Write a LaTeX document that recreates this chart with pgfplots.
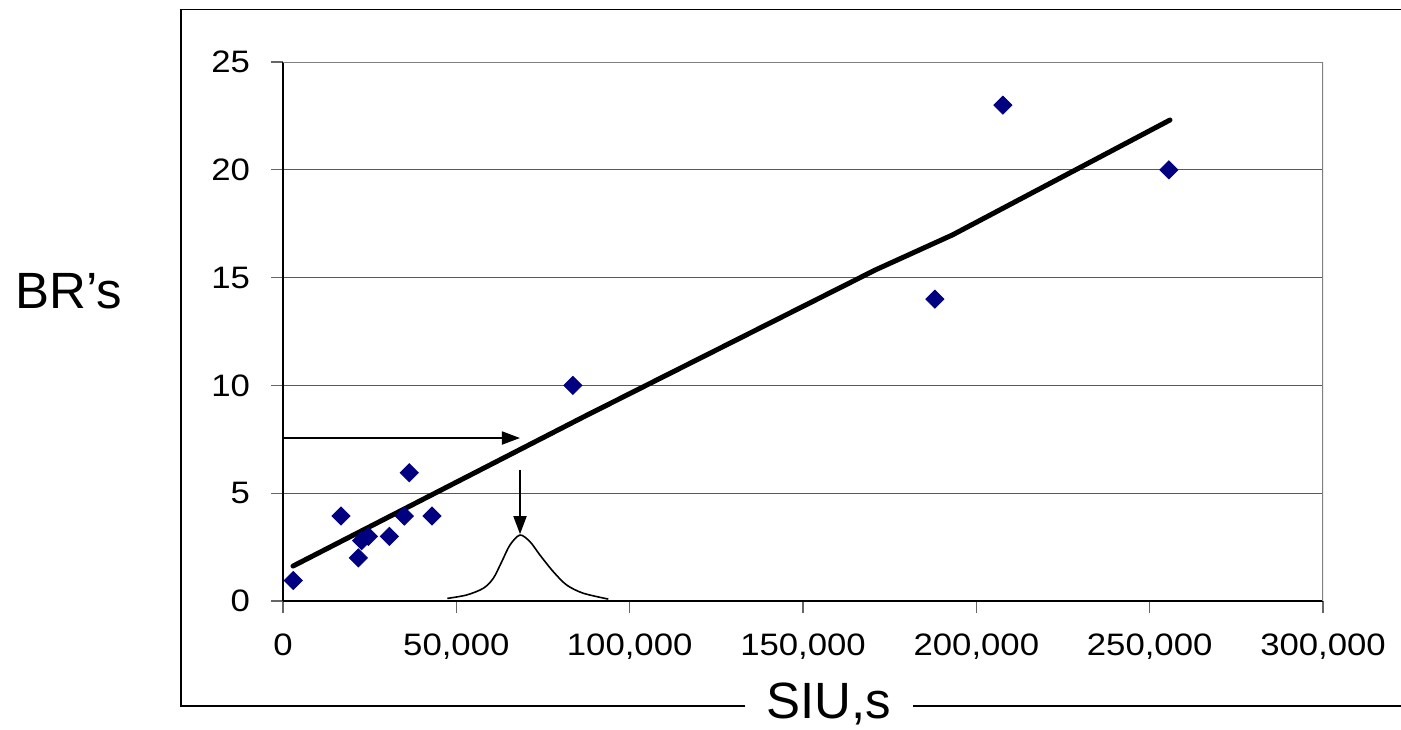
\documentclass[border=0pt]{standalone}
\usepackage{pgfplots}
\pgfplotsset{compat=1.18}
\usetikzlibrary{arrows.meta}
\usepackage{fontspec}
\setmainfont{Liberation Sans}
\definecolor{navy}{RGB}{0,0,128}

\begin{document}
\begin{tikzpicture}
\path[use as bounding box] (-141.5pt,-64pt) rectangle (559pt,300.5pt);
% outer frame, broken where the x label sits
\draw[line width=0.8pt] (231pt,-52.5pt) -- (-51pt,-52.5pt) -- (-51pt,295.8pt) -- (590pt,295.8pt);
\draw[line width=0.8pt] (315pt,-52.5pt) -- (590pt,-52.5pt);
\begin{axis}[
    at={(0,0)}, anchor=south west,
    scale only axis,
    width=520pt, height=269.5pt,
    xmin=0, xmax=300000,
    ymin=0, ymax=25,
    axis lines=left,
    axis line style={-, line width=0.8pt},
    xtick={0,50000,100000,150000,200000,250000,300000},
    xticklabels={0,{50,000},{100,000},{150,000},{200,000},{250,000},{300,000}},
    scaled x ticks=false,
    ytick={0,5,10,15,20,25},
    yticklabels={0,5,10,15,20,25},
    tick align=outside,
    major tick length=5.8pt,
    tick style={black!60, line width=0.6pt},
    ymajorgrids,
    grid style={black!65, line width=0.5pt},
    ticklabel style={font=\fontsize{15.5}{17}\selectfont, xscale=1.12},
    xticklabel style={yshift=-7pt},
    yticklabel style={xshift=-6pt},
]
% moving-average trend line
\addplot[black, line width=2.5pt, line cap=round] coordinates {
  (2885,1.62) (86830,8.55) (170800,15.35) (193120,16.98) (255860,22.31)};
% observations
\addplot[only marks, mark=square*, mark size=3.2pt,
         mark options={rotate=45, fill=navy, draw=navy}] coordinates {
  (2970,0.95) (16730,3.94) (21730,2.0) (22700,2.8) (24620,3.0)
  (30670,3.0) (35000,3.94) (36440,5.95) (42980,3.94)
  (83640,10.0) (188060,14.0) (207670,23.0) (255550,20.0)};
% arrows
\addplot[black, line width=0.9pt, -{Triangle[length=9pt,width=6.5pt]}]
  coordinates {(0,7.56) (68360,7.56)};
\addplot[black, line width=0.9pt, -{Triangle[length=9pt,width=6.5pt]}]
  coordinates {(68370,6.08) (68370,3.10)};
% bell curve
\addplot[black, line width=0.8pt, smooth] coordinates {
  (47390,0.12) (52990,0.28) (57780,0.59) (60660,1.05) (63090,1.82)
  (65480,2.6) (68360,3.06) (71250,2.75) (74130,2.13) (77970,1.36)
  (81840,0.74) (86630,0.36) (93840,0.09)};
\draw[black!50, line width=1pt] (rel axis cs:0,1) -- (rel axis cs:1,1) -- (rel axis cs:1,0);
\end{axis}
\node[anchor=base, inner sep=0, font=\fontsize{25.5}{30}\selectfont] at (273pt,-58.8pt) {SIU,s};
\node[anchor=base west, inner sep=0, font=\fontsize{25.5}{30}\selectfont] at (-134pt,146.3pt) {BR’s};
\end{tikzpicture}
\end{document}
